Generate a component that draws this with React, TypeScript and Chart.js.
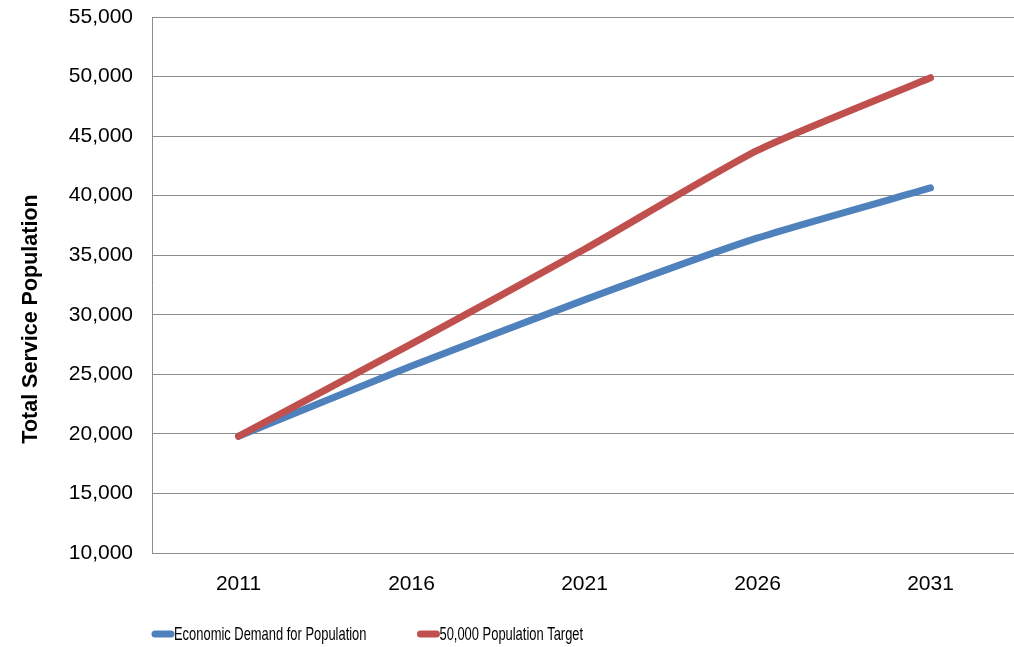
import { useEffect, useRef } from "react";
import { Chart, registerables } from "chart.js";

Chart.register(...registerables);

// Projection years (category axis)
const years = ["2011", "2016", "2021", "2026", "2031"];

// Total service population per scenario
const economicDemand = [19800, 25700, 31250, 36450, 40650];
const populationTarget = [19800, 27550, 35500, 43800, 49900];

const seriesLabels = ["Economic Demand for Population", "50,000 Population Target"];
const seriesColors = ["#4F81BD", "#C0504D"];

// Value axis range and tick spacing
const yMin = 10000;
const yMax = 55000;
const yStep = 5000;
const yTitle = "Total Service Population";

const FONT = "'Liberation Sans', Arial, sans-serif";
const GRID = "#8c8c8c";

// Draws the rotated value-axis title and a line-swatch legend under the plot.
const annotations = {
  id: "annotations",
  afterDraw(chart: any) {
    const { ctx, chartArea } = chart;
    ctx.save();

    // axis title
    ctx.save();
    ctx.translate(31, 319);
    ctx.rotate(-Math.PI / 2);
    ctx.font = `bold 21.5px ${FONT}`;
    ctx.fillStyle = "#000";
    ctx.textAlign = "center";
    ctx.textBaseline = "middle";
    ctx.fillText(yTitle, 0, 0);
    ctx.restore();

    // legend
    const y = 634;
    const squeeze = 0.68;
    ctx.font = `19px ${FONT}`;
    let x = chartArea.left;
    chart.data.datasets.forEach((ds: any) => {
      ctx.strokeStyle = ds.borderColor;
      ctx.lineWidth = 7;
      ctx.lineCap = "round";
      ctx.beginPath();
      ctx.moveTo(x + 3, y);
      ctx.lineTo(x + 19, y);
      ctx.stroke();
      const tx = x + 22;
      ctx.save();
      ctx.translate(tx, y + 1);
      ctx.scale(squeeze, 1);
      ctx.fillStyle = "#000";
      ctx.textAlign = "left";
      ctx.textBaseline = "middle";
      ctx.fillText(ds.label, 0, 0);
      ctx.restore();
      const w = ctx.measureText(ds.label).width * squeeze;
      x = tx + w + 51;
    });

    ctx.restore();
  },
};

export default function App() {
  const canvasRef = useRef<HTMLCanvasElement | null>(null);

  useEffect(() => {
    const canvas = canvasRef.current;
    if (!canvas) return;
    const chart = new Chart(canvas, {
      type: "line",
      data: {
        labels: years,
        datasets: [
          {
            label: seriesLabels[0],
            data: economicDemand,
            borderColor: seriesColors[0],
            backgroundColor: seriesColors[0],
            borderWidth: 7,
            borderCapStyle: "round",
            borderJoinStyle: "round",
            pointRadius: 0,
            tension: 0.2,
            order: 2,
          },
          {
            label: seriesLabels[1],
            data: populationTarget,
            borderColor: seriesColors[1],
            backgroundColor: seriesColors[1],
            borderWidth: 7,
            borderCapStyle: "round",
            borderJoinStyle: "round",
            pointRadius: 0,
            tension: 0.2,
            order: 1,
          },
        ],
      },
      options: {
        responsive: false,
        animation: false,
        layout: { padding: { top: 17, right: 7, bottom: 0, left: 0 } },
        plugins: {
          legend: { display: false },
          tooltip: { enabled: false },
        },
        scales: {
          x: {
            offset: true,
            grid: { display: false, drawTicks: false },
            border: { display: true, color: GRID, width: 1 },
            ticks: {
              color: "#000",
              font: { family: FONT, size: 21 },
              padding: 19,
            },
            afterFit: (s: any) => {
              s.height = 94;
            },
          },
          y: {
            min: yMin,
            max: yMax,
            ticks: {
              stepSize: yStep,
              color: "#000",
              font: { family: FONT, size: 21 },
              padding: 19,
              callback: (v: any) => Number(v).toLocaleString("en-US"),
            },
            grid: { color: GRID, lineWidth: 1, drawTicks: false },
            border: { display: true, color: GRID, width: 1 },
            afterFit: (s: any) => {
              s.width = 152;
              s.paddingTop = 0;
              s.paddingBottom = 0;
            },
          },
        },
      },
      plugins: [annotations],
    });
    return () => chart.destroy();
  }, []);

  return (
    <div
      style={{
        position: "fixed",
        left: 0,
        top: 0,
        width: 1014,
        height: 647,
        overflow: "hidden",
        background: "#fff",
      }}
    >
      <canvas ref={canvasRef} width={1024} height={647} style={{ display: "block" }} />
    </div>
  );
}
